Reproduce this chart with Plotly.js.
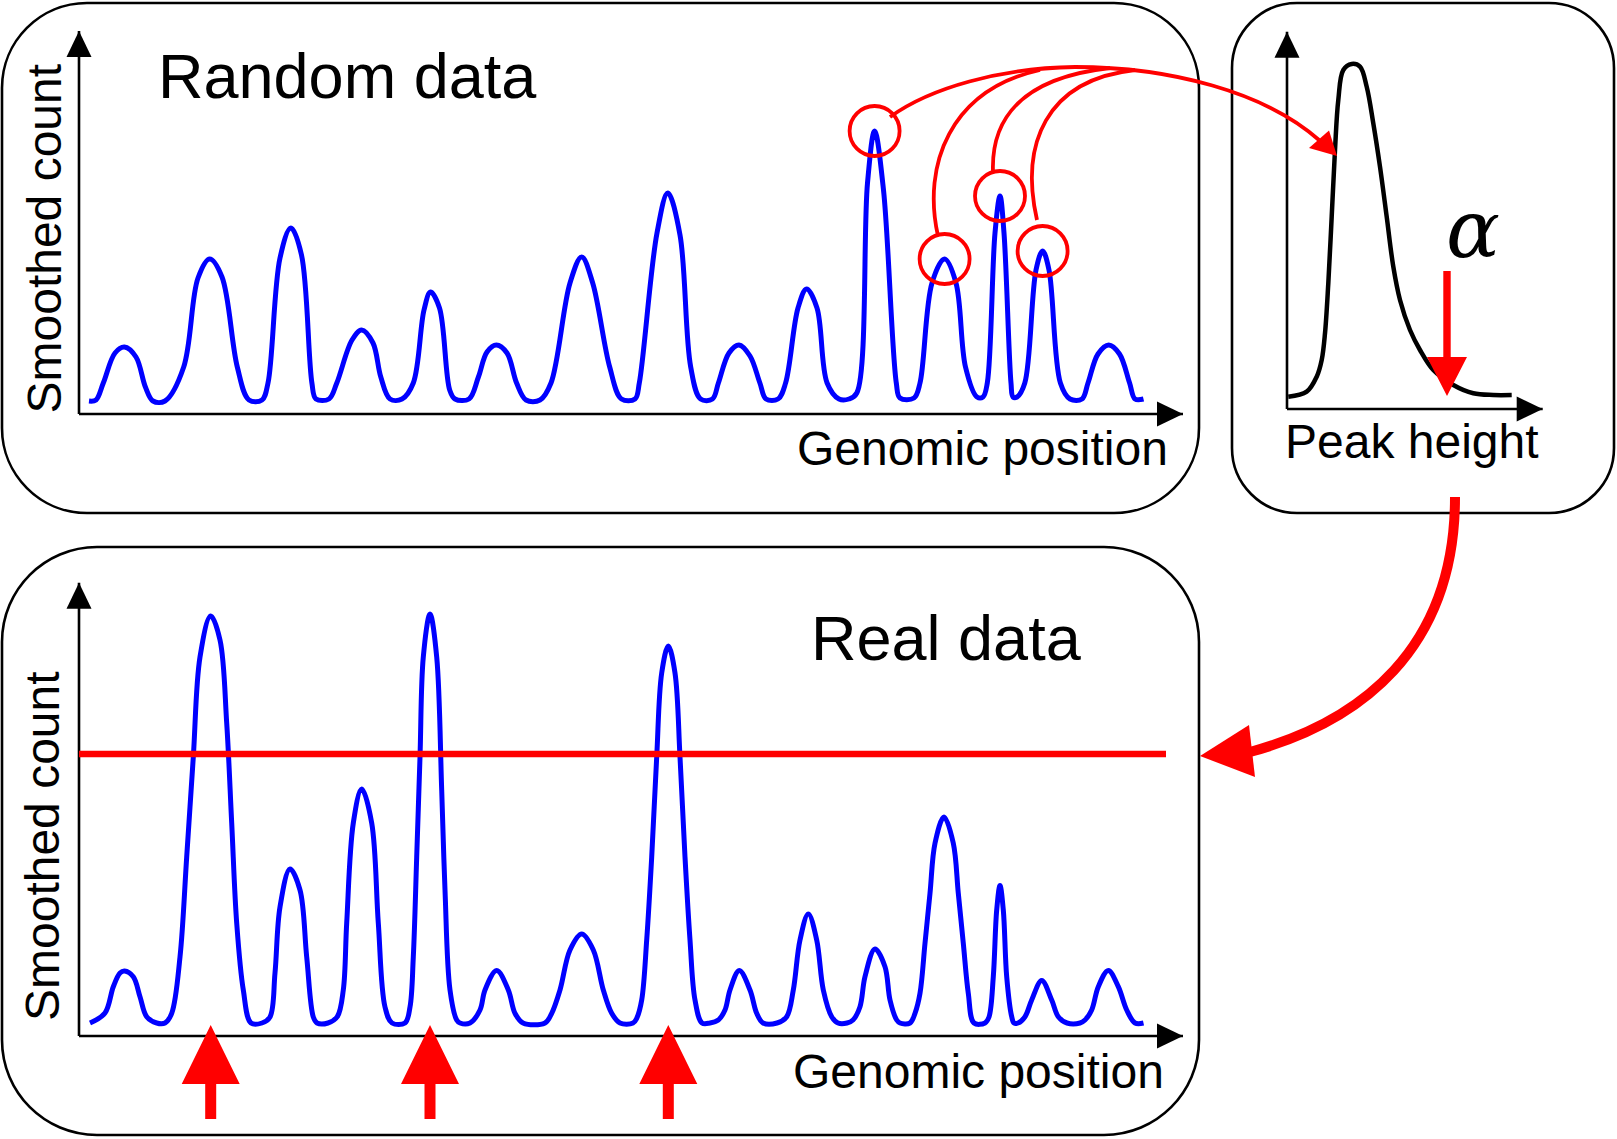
<!DOCTYPE html>
<html><head><meta charset="utf-8">
<script src="https://cdn.plot.ly/plotly-3.0.1.min.js"></script>
<style>html,body{margin:0;padding:0;background:#fff;}#chart{width:1617px;height:1139px;}</style>
</head><body><div id="chart"></div>
<script>
// ---------- DATA ----------
// Top panel: smoothed counts on random data (valleys, flanks and apexes)
const randomPos = [10, 17,
  24.3, 36, 45.4, 57, 66.4, 74, 86,
  104.7, 119, 130.7, 143, 158.3, 170, 183,
  189, 201, 211.9, 222.5, 232.9, 237, 250,
  257.8, 273, 282.7, 294, 301.8, 311, 323,
  334.3, 345, 351.5, 360.5, 370.7, 376, 390,
  399.4, 408, 417.4, 428, 437.6, 447, 461,
  472, 491, 502.7, 513.7, 530.7, 542.5, 556,
  560.3, 578, 588.8, 601, 611.7, 621.6, 633.5,
  639.4, 650, 660, 671, 680.9, 687, 699,
  706.6, 719, 727.6, 738, 748.1, 760, 770,
  777.8, 788.5, 795.6, 804.5, 817.3, 821, 835,
  841, 853, 865.6, 877, 886.5, 898, 904,
  908.3, 916, 921, 925, 932, 934, 938,
  945.8, 957, 963.6, 970, 981.4, 991, 1003,
  1009, 1019, 1029.7, 1040.5, 1050.6, 1056, 1064.5];
const randomCount = [13, 14,
  31, 61, 67, 57, 27, 13, 13,
  47, 136, 155, 137, 47, 14, 14,
  31, 156, 186, 159, 31, 15, 15,
  31, 74, 84, 71, 37, 15, 15,
  31, 104, 122, 106, 24, 15, 15,
  37, 62, 69, 61, 31, 14, 14,
  31, 131, 157, 131, 47, 15, 15,
  31, 181, 221, 179, 47, 15, 15,
  31, 61, 69, 58, 31, 15, 15,
  31, 106, 125, 106, 31, 15, 15,
  21, 231, 283, 224, 31, 16, 16,
  31, 131, 155, 131, 47, 17, 17,
  31, 181, 218, 181, 31, 17, 17,
  31, 144, 163, 144, 31, 15, 15,
  31, 60, 69, 60, 31, 15, 15];
// maxima highlighted with red circles
const circledPos = [795.6, 865.6, 921, 963.6];
const circledCount = [283, 155, 218, 163];

// Right panel: distribution of peak heights
const peakHeight = [1.3, 19.7, 29.7, 34.7, 38, 41.3, 44.7, 48, 51.3, 56.3, 64.7, 73, 79.7, 86.3, 93, 99.7, 106.3, 113, 123, 133, 146.3, 166.3, 186.3, 206.3, 224.7];
const frequency = [12.3, 17.3, 32.3, 49, 75.7, 125.7, 192.3, 259, 309, 339, 345, 342.3, 322.3, 285.7, 242.3, 192.3, 142.3, 109, 79, 59, 39, 24, 15.7, 14, 14];
const alphaHeight = 160;

// Bottom panel: smoothed counts on real data
const realPos = [11,
  26, 34.3, 41, 45.5, 54.3, 61, 67.7, 77.7, 86,
  92.7, 101, 107.7, 114.3, 121, 131.7, 141, 147.7, 152.7, 157.7, 164.3, 172, 183,
  191, 196, 201, 211, 221, 227.7, 234.3, 238, 249,
  258.3, 264.3, 267.7, 274.3, 282.7, 292.7, 299.3, 306, 313, 326,
  331, 334.3, 337.7, 341, 344.3, 351, 357.7, 362.7, 366, 371, 377.7, 381, 391,
  401, 406, 417.7, 429.3, 436, 444, 466,
  472.7, 481, 491, 502.7, 514.3, 524.3, 532.7, 541, 554,
  557.7, 562.7, 567.7, 572.7, 577.7, 582.7, 589.3, 596, 601, 606, 611, 616, 623, 631,
  639.3, 646, 651, 660.3, 671, 677.7, 684, 698,
  707.7, 714.3, 721, 729.3, 737.7, 744.3, 752.7, 759, 768,
  774, 781, 786, 796, 806, 811, 817.7, 821, 831,
  836, 841, 846, 851, 856, 865, 874.3, 879.3, 884.3, 889.3, 895, 906,
  910, 914.3, 917.7, 921, 924.3, 927.7, 932.7, 935, 939,
  946, 952.7, 962.7, 972.7, 979.3, 988, 1001,
  1006, 1012.7, 1019.3, 1029.3, 1039.3, 1047.7, 1056, 1064.5];
const realCount = [13,
  23, 49.3, 63, 65, 59.3, 39.3, 19.3, 13, 13,
  22.7, 79, 179, 279, 379, 420, 396, 313, 213, 113, 46, 13, 13,
  19, 63, 129, 167, 146, 79, 19, 13, 13,
  19.3, 46, 113, 213, 247, 213, 113, 29, 13, 13,
  29, 79, 179, 279, 379, 422, 379, 246, 146, 46, 16, 13, 13,
  26, 46, 65.5, 46, 22.7, 13, 13,
  22.7, 46, 86, 102, 86, 46, 22.7, 13, 13,
  17.7, 36, 96, 179, 279, 363, 390, 363, 279, 179, 96, 36, 13, 13,
  16, 26, 46, 65.5, 46, 22.7, 13, 13,
  19.3, 46, 96, 122, 96, 46, 19.3, 13, 13,
  16, 29.3, 59.3, 87, 69.3, 36, 16, 13, 13,
  22.7, 42.7, 92.7, 142.7, 192.7, 219, 192.7, 142.7, 92.7, 42.7, 13, 13,
  19, 59.3, 126, 150.5, 126, 59.3, 19.3, 13, 13,
  19.3, 36, 55.5, 36, 19.3, 13, 13,
  16, 26, 49.3, 65.5, 49.3, 26, 13, 13];
const threshold = 282;

// Texts
const titleRandom = "Random data";
const titleReal = "Real data";
const xLabel = "Genomic position";
const yLabel = "Smoothed count";
const histLabel = "Peak height";
const alphaLabel = "<i>α</i>";

// ---------- LAYOUT HELPERS ----------
const W = 1617, H = 1139;
const fx = px => px / W;
const fy = py => 1 - py / H;
const BLUE = '#0000ff', RED = '#ff0000', BLACK = '#000000';
const FONT = 'Liberation Sans, Arial, sans-serif';

function roundRect(x0, y0, x1, y1, r) {
  const k = 0.5523 * r;
  return `M ${x0 + r},${y0} L ${x1 - r},${y0} C ${x1 - r + k},${y0} ${x1},${y0 + r - k} ${x1},${y0 + r} ` +
    `L ${x1},${y1 - r} C ${x1},${y1 - r + k} ${x1 - r + k},${y1} ${x1 - r},${y1} ` +
    `L ${x0 + r},${y1} C ${x0 + r - k},${y1} ${x0},${y1 - r + k} ${x0},${y1 - r} ` +
    `L ${x0},${y0 + r} C ${x0},${y0 + r - k} ${x0 + r - k},${y0} ${x0 + r},${y0} Z`;
}

// axis extents (in each panel's units)
const topXLen = 1104, topYLen = 383;
const histXLen = 255.7, histYLen = 377.3;
const botXLen = 1104, botYLen = 453.3;

const traces = [
  {x: randomPos, y: randomCount, xaxis: 'x', yaxis: 'y', type: 'scatter', mode: 'lines',
   line: {color: BLUE, width: 5, shape: 'spline', smoothing: 1}, hoverinfo: 'skip', showlegend: false},
  {x: peakHeight, y: frequency, xaxis: 'x2', yaxis: 'y2', type: 'scatter', mode: 'lines',
   line: {color: BLACK, width: 4.5, shape: 'spline', smoothing: 1}, hoverinfo: 'skip', showlegend: false},
  {x: realPos, y: realCount, xaxis: 'x3', yaxis: 'y3', type: 'scatter', mode: 'lines',
   line: {color: BLUE, width: 5, shape: 'spline', smoothing: 1}, hoverinfo: 'skip', showlegend: false}
];

const shapes = [];
// rounded panel frames (overlay pixel axes)
[[2, 3, 1199, 513, 85], [1232, 3, 1614, 513, 65], [2, 547, 1199, 1135, 95]].forEach(b => {
  shapes.push({type: 'path', xref: 'x4', yref: 'y4', path: roundRect(...b), line: {color: BLACK, width: 2.6}, fillcolor: 'rgba(0,0,0,0)'});
});

function axisShapes(xr, yr, xLen, yLen) {
  shapes.push({type: 'line', xref: xr, yref: yr, x0: 0, y0: 0, x1: xLen, y1: 0, line: {color: BLACK, width: 2.6}});
  shapes.push({type: 'line', xref: xr, yref: yr, x0: 0, y0: 0, x1: 0, y1: yLen, line: {color: BLACK, width: 2.6}});
  shapes.push({type: 'path', xref: xr, yref: yr, xsizemode: 'pixel', ysizemode: 'pixel', xanchor: xLen, yanchor: 0,
    path: 'M 0,0 L -26,12.5 L -26,-12.5 Z', fillcolor: BLACK, line: {width: 0}});
  shapes.push({type: 'path', xref: xr, yref: yr, xsizemode: 'pixel', ysizemode: 'pixel', xanchor: 0, yanchor: yLen,
    path: 'M 0,0 L 12.5,-26 L -12.5,-26 Z', fillcolor: BLACK, line: {width: 0}});
}
axisShapes('x', 'y', topXLen, topYLen);
axisShapes('x2', 'y2', histXLen, histYLen);
axisShapes('x3', 'y3', botXLen, botYLen);

// circles around selected random maxima
circledPos.forEach((p, i) => {
  shapes.push({type: 'circle', xref: 'x', yref: 'y', xsizemode: 'pixel', ysizemode: 'pixel',
    xanchor: p, yanchor: circledCount[i], x0: -25, x1: 25, y0: -25, y1: 25,
    line: {color: RED, width: 3.8}, fillcolor: 'rgba(0,0,0,0)'});
});

// connecting curves from circles to the distribution
const connectors = [
  'M 890,117 C 930,88 1000,68 1075,67 C 1170,67 1265,92 1319,140',
  'M 938,236 C 922,165 950,90 1040,70',
  'M 993,172 C 991,120 1020,78 1110,68',
  'M 1037,220 C 1020,145 1045,80 1135,70'
];
connectors.forEach(p => shapes.push({type: 'path', xref: 'x4', yref: 'y4', path: p, line: {color: RED, width: 3.8}, fillcolor: 'rgba(0,0,0,0)'}));
shapes.push({type: 'path', xref: 'x4', yref: 'y4', path: 'M 1337,156 L 1309,148 L 1329,130.5 Z', fillcolor: RED, line: {width: 0}});

// alpha arrow on the distribution
shapes.push({type: 'path', xref: 'x2', yref: 'y2', xsizemode: 'pixel', ysizemode: 'pixel', xanchor: alphaHeight, yanchor: 0,
  path: 'M 0,13 L 20,52 L 3.7,52 L 3.7,138 L -3.7,138 L -3.7,52 L -20,52 Z', fillcolor: RED, line: {width: 0}});

// big arrow from distribution to threshold
shapes.push({type: 'path', xref: 'x4', yref: 'y4', path: 'M 1455,497 C 1455,650 1360,722 1250,752', line: {color: RED, width: 10}, fillcolor: 'rgba(0,0,0,0)'});
shapes.push({type: 'path', xref: 'x4', yref: 'y4', path: 'M 1200,756 L 1249,725 L 1255,777 Z', fillcolor: RED, line: {width: 0}});

// threshold line
shapes.push({type: 'line', xref: 'x3', yref: 'y3', x0: 0, x1: 1087, y0: threshold, y1: threshold, line: {color: RED, width: 6.5}});

// arrows under real peaks above the threshold (local maxima)
for (let i = 1; i < realCount.length - 1; i++) {
  if (realCount[i] > threshold && realCount[i] >= realCount[i - 1] && realCount[i] >= realCount[i + 1]) {
    shapes.push({type: 'path', xref: 'x3', yref: 'y3', xsizemode: 'pixel', ysizemode: 'pixel', xanchor: realPos[i], yanchor: 0,
      path: 'M 0,11 L 29,-48 L 5.5,-48 L 5.5,-83 L -5.5,-83 L -5.5,-48 L -29,-48 Z', fillcolor: RED, line: {width: 0}});
  }
}

const ann = (text, x, y, size, xanchor, extra) => Object.assign({
  text, x, y, xref: 'x4', yref: 'y4', showarrow: false, xanchor, yanchor: 'middle',
  font: {family: FONT, size, color: BLACK}
}, extra || {});

const annotations = [
  ann(titleRandom, 156, 76, 63, 'left'),
  ann(titleReal, 809, 638, 63, 'left'),
  ann(xLabel, 1170, 448, 48, 'right'),
  ann(xLabel, 1166, 1071, 48, 'right'),
  ann(histLabel, 1283, 441, 48, 'left'),
  ann(yLabel, 43.5, 239, 48, 'center', {textangle: -90}),
  ann(yLabel, 42, 846, 48, 'center', {textangle: -90}),
  ann(alphaLabel, 1473, 229, 80, 'center', {font: {family: 'DejaVu Serif, Liberation Serif, serif', size: 80, color: BLACK}})
];

const hid = {visible: false, fixedrange: true};
const layout = {
  width: W, height: H, margin: {l: 0, r: 0, t: 0, b: 0, pad: 0},
  paper_bgcolor: '#ffffff', plot_bgcolor: 'rgba(0,0,0,0)', showlegend: false,
  xaxis: Object.assign({domain: [fx(39), fx(1203)], range: [-40, 1124], anchor: 'y'}, hid),
  yaxis: Object.assign({domain: [fy(454), fy(4)], range: [-40, 410], anchor: 'x'}, hid),
  xaxis2: Object.assign({domain: [fx(1247), fx(1583)], range: [-40, 296], anchor: 'y2'}, hid),
  yaxis2: Object.assign({domain: [fy(449), fy(4)], range: [-40, 405], anchor: 'x2'}, hid),
  xaxis3: Object.assign({domain: [fx(39), fx(1203)], range: [-40, 1124], anchor: 'y3'}, hid),
  yaxis3: Object.assign({domain: [fy(1136), fy(556)], range: [-100, 480], anchor: 'x3'}, hid),
  xaxis4: Object.assign({domain: [0, 1], range: [0, W], anchor: 'y4'}, hid),
  yaxis4: Object.assign({domain: [0, 1], range: [H, 0], anchor: 'x4'}, hid),
  shapes, annotations
};

Plotly.newPlot('chart', traces, layout, {staticPlot: true, displayModeBar: false});
</script>
</body></html>
